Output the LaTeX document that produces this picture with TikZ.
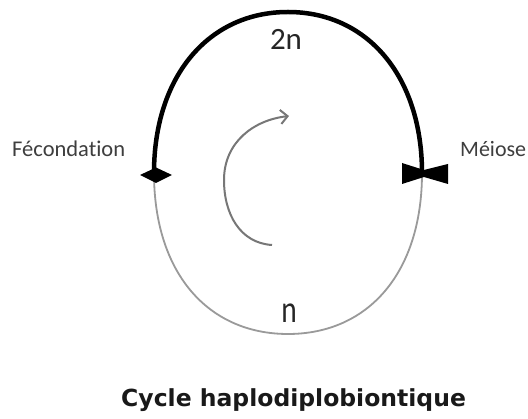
\documentclass[tikz,border=0pt]{standalone}
\usepackage{fontspec}
\setmainfont{Carlito}[Ligatures=NoCommon]
\newfontfamily\titlefont{DejaVu Sans}
\usetikzlibrary{arrows.meta}
\definecolor{lblgray}{HTML}{3E3E3E}
\definecolor{arcgray}{HTML}{9A9A9A}
\definecolor{arrgray}{HTML}{777777}
\begin{document}
\begin{tikzpicture}[x=1pt,y=-1pt,
  lbl/.style={inner sep=0pt, text=lblgray},
  ploid/.style={inner sep=0pt, text=black!85},
  diparc/.style={line width=4.5pt, black},
  haparc/.style={line width=1.8pt, arcgray},
  cyclearrow/.style={line width=2pt, arrgray, -{Straight Barb[length=7pt,width=14pt,line width=2pt]}},
  marker/.style={fill=black, draw=none}]
\useasboundingbox[fill=white] (0,0) rectangle (528,419);
% key points of the cycle
\coordinate (L) at (154,173);
\coordinate (T) at (288,12);
\coordinate (R) at (422,173);
\coordinate (B) at (288,334);
% diploid phase (top, thick)
\draw[diparc] (L) .. controls (154,77) and (208,12) .. (T)
                  .. controls (368,12) and (422,77) .. (R);
% haploid phase (bottom, thin grey)
\draw[haparc] (R) .. controls (422,273) and (368,334) .. (B)
                  .. controls (208,334) and (154,273) .. (L);
% markers
\fill[marker] (140,175) -- (156,167.5) -- (172,175) -- (156,183) -- cycle;
\fill[marker] (402,163) -- (424,170) -- (448,164) -- (448,184) -- (424,177) -- (402,184) -- cycle;
% labels
\node[lbl, anchor=base west, font=\fontsize{22.5}{26}\selectfont] (fec) at (12,157) {Fécondation};
\node[lbl, anchor=base west, font=\fontsize{22}{26}\selectfont] (mei) at (460,157) {Méiose};
\node[ploid, anchor=base, font=\fontsize{31}{36}\selectfont] (dn) at (286,50) {2n};
\node[ploid, anchor=base, font=\fontsize{32}{36}\selectfont] (hn) at (289,323) {\scalebox{0.92}[1.2]{n}};
% rotation arrow
\coordinate (a0) at (272,245);
\coordinate (a1) at (224,180);
\coordinate (a2) at (289,116);
\draw[cyclearrow] (a0) .. controls (240,243) and (224,214) .. (a1)
                       .. controls (224,142) and (254,120) .. (a2);
% title
\node[inner sep=0pt, anchor=base west, text=black!90, font=\titlefont\bfseries\fontsize{23.5}{28}\selectfont] (title) at (121,407) {Cycle haplodiplobiontique};
\end{tikzpicture}
\end{document}
